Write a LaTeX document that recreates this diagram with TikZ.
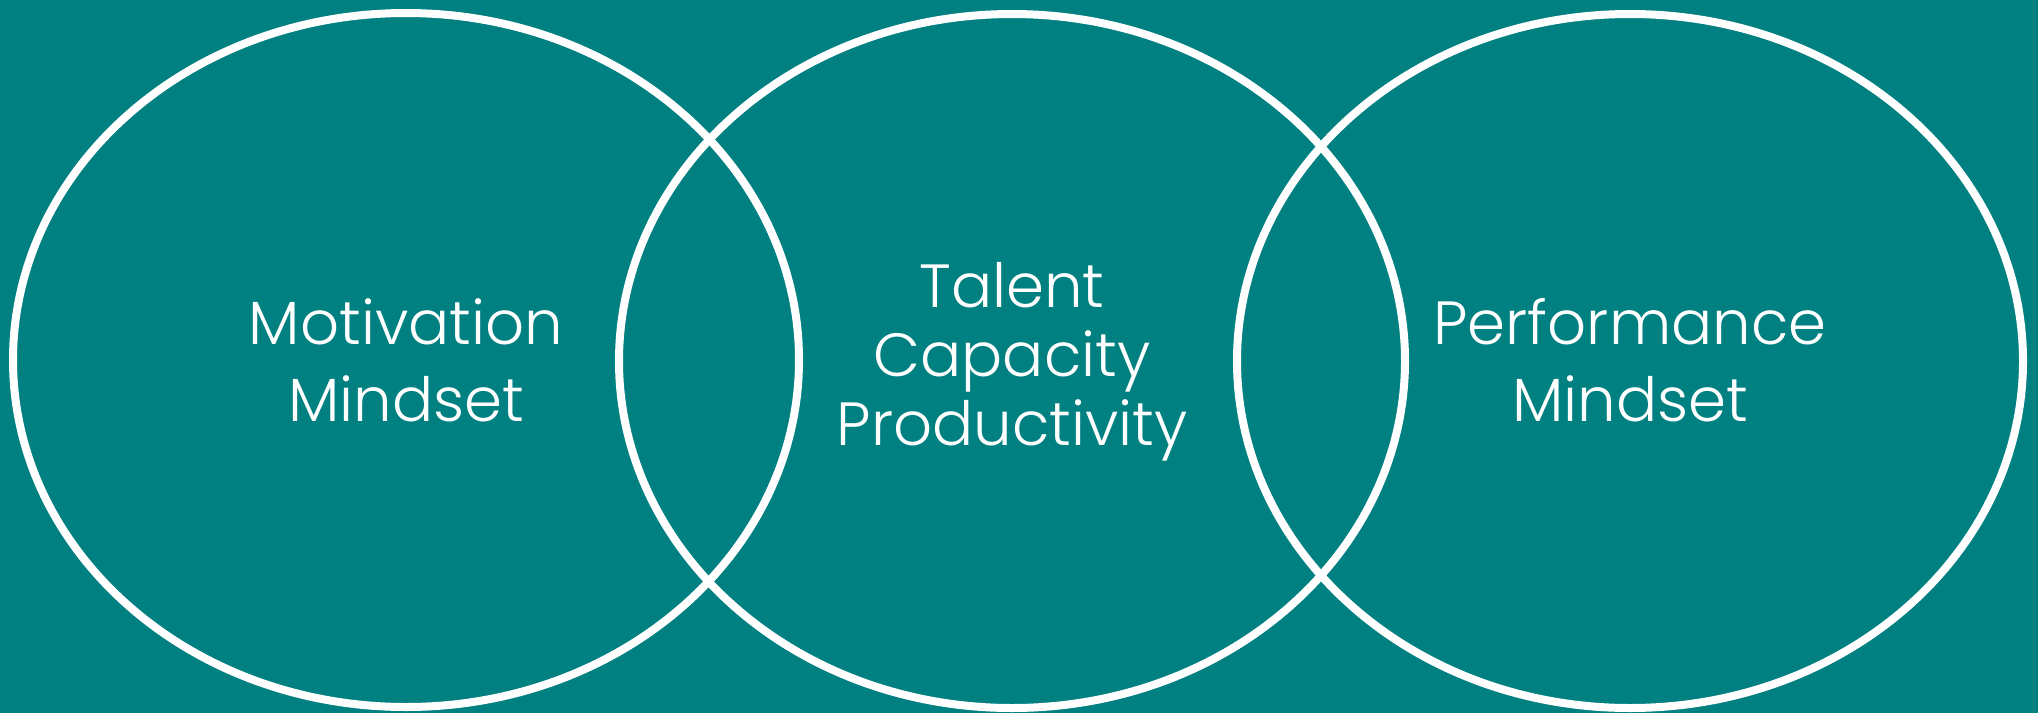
\documentclass[tikz,border=0pt]{standalone}
\usepackage{fontspec}
\setmainfont{Poppins}[UprightFont=* Light]
\definecolor{teal0}{RGB}{0,128,128}
\usetikzlibrary{shapes.geometric}
\tikzset{
  ring/.style={draw=white, line width=8pt, ellipse, inner sep=0pt,
    minimum width=786pt, minimum height=694pt},
  lbl/.style={text=white, align=center, inner sep=0pt,
    font=\fontsize{61}{77}\selectfont},
  lbltight/.style={lbl, font=\fontsize{61}{69}\selectfont}
}
\begin{document}
\begin{tikzpicture}[x=1pt,y=-1pt]
\fill[teal0] (0,0) rectangle (2038,713);
\useasboundingbox (0,0) rectangle (2038,713);
\node[ring] (e1) at (406,360) {};
\node[ring] (e2) at (1012,361) {};
\node[ring] (e3) at (1630,361) {};
\node[lbl] (t1) at (406,360) {Motivation\\Mindset};
\node[lbltight] (t2) at (1012,362) {Talent\\Capacity\\Productivity};
\node[lbl] (t3) at (1630,360) {Performance\\Mindset};
\end{tikzpicture}
\end{document}
